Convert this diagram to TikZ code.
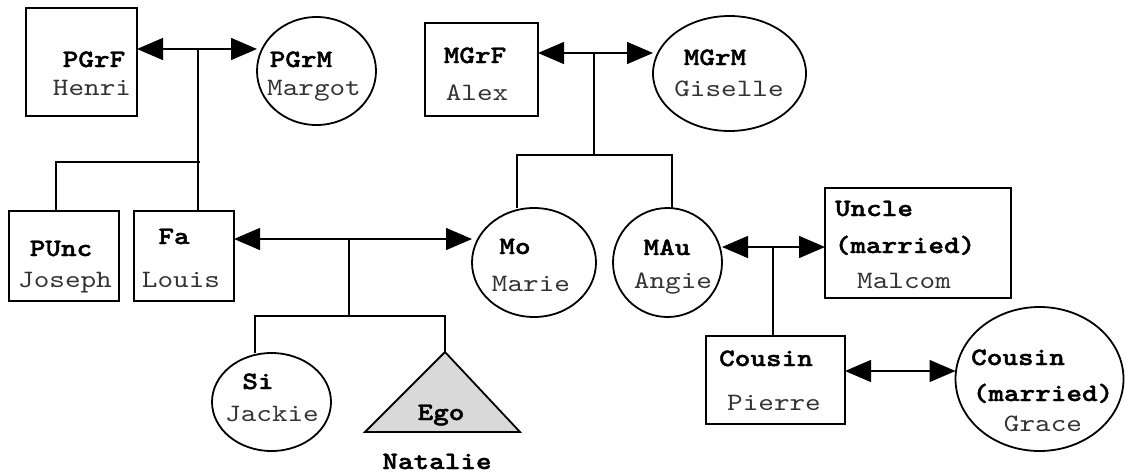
\documentclass[tikz,border=0pt]{standalone}
\usepackage{fontspec}
\newfontfamily\cour{lmmono10-regular}[Extension=.otf, FakeStretch=1.19]
\newfontfamily\courb{lmmonolt10-bold}[Extension=.otf, FakeStretch=1.19, FakeBold=1.6]
\usetikzlibrary{shapes.geometric,arrows.meta}
\tikzset{
  box/.style={draw, line width=1.8pt, rectangle, inner sep=0pt, outer sep=0pt},
  oval/.style={draw, line width=1.8pt, ellipse, inner sep=0pt, outer sep=0pt},
  lab/.style={font=\courb\fontsize{25}{30}\selectfont, inner sep=0pt, text height=16pt, text depth=0pt, anchor=center},
  nm/.style={font=\cour\fontsize{25}{30}\selectfont, text=black!80, inner sep=0pt, text height=16pt, text depth=0pt, anchor=center},
  ln/.style={line width=1.4pt},
  arr/.style={line width=1.4pt, {Triangle[length=26pt,width=22pt]}-{Triangle[length=26pt,width=22pt]}}
}
\begin{document}
\begin{tikzpicture}[x=1pt,y=-1pt]
\useasboundingbox (0,0) rectangle (1126,474);
% persons
\node[box, minimum width=111pt, minimum height=108pt] (pgrf) at (81.5,62) {};
\node[oval, minimum width=119pt, minimum height=108pt] (pgrm) at (316.5,71) {};
\node[box, minimum width=113pt, minimum height=93pt] (mgrf) at (481.5,69.5) {};
\node[oval, minimum width=153pt, minimum height=115pt] (mgrm) at (729.5,73.5) {};
\node[box, minimum width=110pt, minimum height=90pt] (punc) at (64,256) {};
\node[box, minimum width=100pt, minimum height=90pt] (fa) at (184,256) {};
\node[oval, minimum width=124pt, minimum height=109pt] (mo) at (534,262.5) {};
\node[oval, minimum width=109pt, minimum height=109pt] (mau) at (667.5,262.5) {};
\node[box, minimum width=186pt, minimum height=110pt] (uncle) at (918,243) {};
\node[box, minimum width=139pt, minimum height=88pt] (cousin) at (775.5,380) {};
\node[oval, minimum width=168pt, minimum height=144pt] (grace) at (1039.5,379) {};
\node[oval, minimum width=119pt, minimum height=98pt] (si) at (271.5,402) {};
\coordinate (egotop) at (445,352);
\coordinate (egol) at (365,432);
\coordinate (egor) at (520,432);
\draw[line width=1.8pt, fill=black!15, line join=miter] (egol) -- (egotop) -- (egor) -- cycle;
% texts
\node[lab] (t1) at (94,59) {PGrF};
\node[nm] (t2) at (92,87) {Henri};
\node[lab] (t3) at (301,59) {PGrM};
\node[nm] (t4) at (314,87) {Margot};
\node[lab] (t5) at (475,55) {MGrF};
\node[nm] (t6) at (477,92) {Alex};
\node[lab] (t7) at (715,57) {MGrM};
\node[nm] (t8) at (729,88) {Giselle};
\node[lab] (t9) at (61,248) {PUnc};
\node[nm] (t10) at (65,279) {Joseph};
\node[lab] (t11) at (174,236) {Fa};
\node[nm] (t12) at (181,279) {Louis};
\node[lab] (t13) at (515,246) {Mo};
\node[nm] (t14) at (531,283) {Marie};
\node[lab] (t15) at (667,247) {MAu};
\node[nm] (t16) at (673,280) {Angie};
\node[lab] (t17) at (874,208) {Uncle};
\node[lab] (t18) at (905,245) {(married)};
\node[nm] (t19) at (904,280) {Malcom};
\node[lab] (t20) at (766,358) {Cousin};
\node[nm] (t21) at (774,402) {Pierre};
\node[lab] (t22) at (1018,357) {Cousin};
\node[lab] (t23) at (1043,393) {(married)};
\node[nm] (t24) at (1043,423) {Grace};
\node[lab] (t25) at (258,381) {Si};
\node[nm] (t26) at (272,413) {Jackie};
\node[lab] (t27) at (441,412) {Ego};
\node[lab] (t28) at (437,461) {Natalie};
% paternal grandparents
\coordinate (pgr) at (198,49);
\coordinate (pk1) at (56,162);
\coordinate (pk2) at (200,162);
\draw[arr] (pgrf.east |- pgr) -- (pgr -| pgrm.west);
\draw[ln] (pgr) -- (pgr |- fa.north);
\draw[ln] (pk2) -- (pk1) -- (pk1 |- punc.north);
% maternal grandparents
\coordinate (mgr) at (594,53);
\coordinate (mk) at (594,155);
\coordinate (mk1) at (517,155);
\coordinate (mk2) at (672,155);
\draw[arr] (mgrf.east |- mgr) -- (mgr -| mgrm.west);
\draw[ln] (mgr) -- (mk);
\draw[ln] (mk1 |- mo.north) -- (mk1) -- (mk2) -- (mk2 |- mau.north);
% parents
\coordinate (fm) at (349,239);
\coordinate (fk) at (349,316);
\coordinate (fk1) at (255,316);
\coordinate (fk2) at (445,316);
\draw[arr] (fa.east |- fm) -- (fm -| mo.west);
\draw[ln] (fm) -- (fk);
\draw[ln] (fk1 |- si.north) -- (fk1) -- (fk2) -- (egotop);
% aunt and uncle
\coordinate (mu) at (773,247);
\draw[arr] (mau.east |- mu) -- (mu -| uncle.west);
\draw[ln] (mu) -- (mu |- cousin.north);
% cousin couple
\coordinate (cg) at (900,371);
\draw[arr] (cousin.east |- cg) -- (cg -| grace.west);
\end{tikzpicture}
\end{document}
